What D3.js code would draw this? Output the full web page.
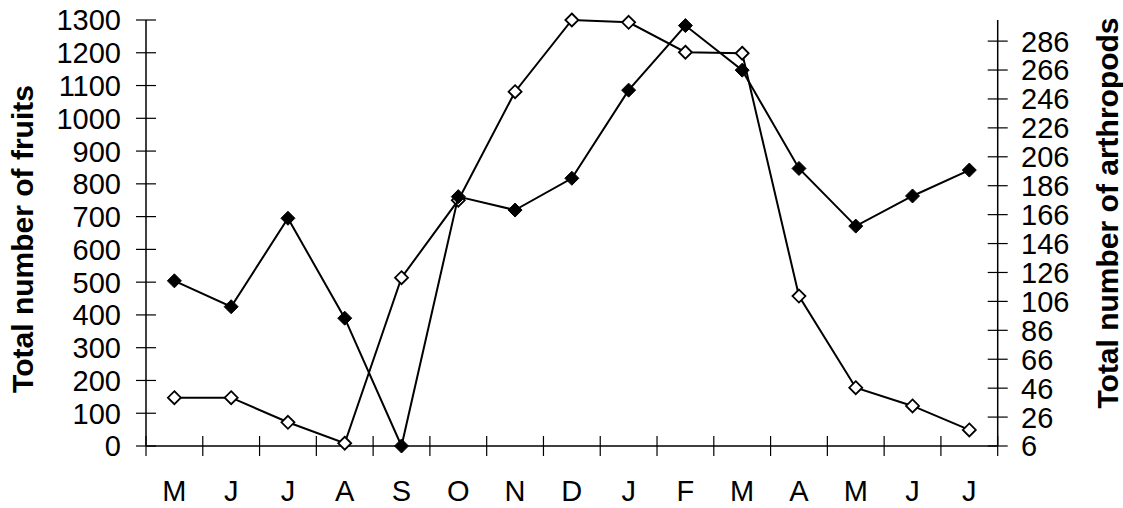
<!DOCTYPE html>
<html>
<head>
<meta charset="utf-8">
<script src="https://cdn.jsdelivr.net/npm/d3@7"></script>
<style>
html,body{margin:0;padding:0;background:#fff;}
svg{display:block;font-family:Arial,"Liberation Sans",sans-serif;}
</style>
</head>
<body>
<svg id="chart" width="1123" height="508"></svg>
<script>
const months = ["M","J","J","A","S","O","N","D","J","F","M","A","M","J","J"];
const fruits = [504, 425, 695, 390, 0, 761, 720, 817, 1086, 1283, 1147, 847, 671, 763, 842];
const arthropods = [39.4, 39.4, 22.4, 7.9, 122.4, 176, 251, 300.6, 299, 278.3, 277.6, 109.7, 46.3, 33.7, 17.1];
const leftTicks = d3.range(0, 1301, 100);
const rightTicks = d3.range(6, 287, 20);

(function () {
const svg = d3.select("#chart");
const pL = 146, pR = 997.7, pT = 20, pB = 446;
const fs = 29;

const x = d3.scaleBand().domain(d3.range(months.length)).range([pL, pR]).padding(0);
const yL = d3.scaleLinear().domain([0, 1300]).range([pB, pT]);
const yR = d3.scaleLinear().domain([6, 300.6]).range([pB, pT]);

// Left axis
const gL = svg.append("g");
gL.append("line").attr("x1", pL).attr("x2", pL).attr("y1", pT).attr("y2", pB)
  .attr("stroke", "#000").attr("stroke-width", 1.5);
gL.selectAll("line.t").data(leftTicks).enter().append("line").attr("class","t")
  .attr("x1", pL - 10).attr("x2", pL + 10)
  .attr("y1", d => yL(d)).attr("y2", d => yL(d))
  .attr("stroke", "#000").attr("stroke-width", 1.2);
gL.selectAll("text").data(leftTicks).enter().append("text")
  .attr("x", 121).attr("y", d => yL(d)).attr("dy", "0.36em")
  .attr("text-anchor", "end").attr("font-size", fs).text(d => d);

// Right axis
const gR = svg.append("g");
gR.append("line").attr("x1", pR).attr("x2", pR).attr("y1", pT).attr("y2", pB)
  .attr("stroke", "#000").attr("stroke-width", 1.5);
gR.selectAll("line.t").data(rightTicks).enter().append("line").attr("class","t")
  .attr("x1", pR - 10).attr("x2", pR + 10)
  .attr("y1", d => yR(d)).attr("y2", d => yR(d))
  .attr("stroke", "#000").attr("stroke-width", 1.2);
gR.selectAll("text").data(rightTicks).enter().append("text")
  .attr("x", 1021).attr("y", d => yR(d)).attr("dy", "0.36em")
  .attr("text-anchor", "start").attr("font-size", fs).text(d => d);

// X axis
const gX = svg.append("g");
gX.append("line").attr("x1", pL).attr("x2", pR).attr("y1", pB).attr("y2", pB)
  .attr("stroke", "#000").attr("stroke-width", 1.5);
const bounds = d3.range(months.length + 1).map(i => i < months.length ? x(i) : x(months.length - 1) + x.bandwidth());
gX.selectAll("line.t").data(bounds).enter().append("line").attr("class","t")
  .attr("x1", d => d).attr("x2", d => d).attr("y1", pB - 10).attr("y2", pB + 10)
  .attr("stroke", "#000").attr("stroke-width", 1.2);
gX.selectAll("text").data(months).enter().append("text")
  .attr("x", (d, i) => x(i) + x.bandwidth() / 2).attr("y", 501)
  .attr("text-anchor", "middle").attr("font-size", fs).text(d => d);

// Titles
svg.append("text").attr("transform", "translate(33,239) rotate(-90)")
  .attr("text-anchor", "middle").attr("font-size", 30).attr("font-weight", "bold")
  .text("Total number of fruits");
svg.append("text").attr("transform", "translate(1118,213) rotate(-90)")
  .attr("text-anchor", "middle").attr("font-size", 30).attr("font-weight", "bold")
  .text("Total number of arthropods");

const cx = i => x(i) + x.bandwidth() / 2;
const diamondPath = s => `M0,${-s}L${s},0L0,${s}L${-s},0Z`;

// Arthropods (open)
svg.append("path").datum(arthropods)
  .attr("d", d3.line().x((d, i) => cx(i)).y(d => yR(d)))
  .attr("fill", "none").attr("stroke", "#000").attr("stroke-width", 2);
svg.selectAll("path.oa").data(arthropods).enter().append("path").attr("class","oa")
  .attr("transform", (d, i) => `translate(${cx(i)},${yR(d)})`)
  .attr("d", diamondPath(6.5))
  .attr("fill", "#fff").attr("stroke", "#000").attr("stroke-width", 1.8);

// Fruits (filled)
svg.append("path").datum(fruits)
  .attr("d", d3.line().x((d, i) => cx(i)).y(d => yL(d)))
  .attr("fill", "none").attr("stroke", "#000").attr("stroke-width", 2);
svg.selectAll("path.fr").data(fruits).enter().append("path").attr("class","fr")
  .attr("transform", (d, i) => `translate(${cx(i)},${yL(d)})`)
  .attr("d", diamondPath(7))
  .attr("fill", "#000").attr("stroke", "#000").attr("stroke-width", 1);
})();
</script>
</body>
</html>
